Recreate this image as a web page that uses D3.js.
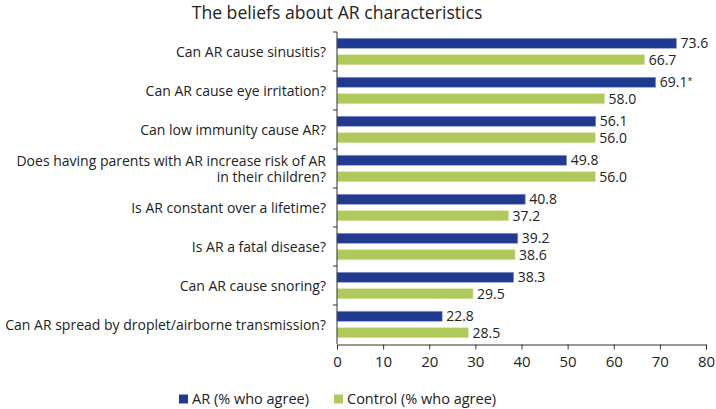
<!DOCTYPE html>
<html>
<head>
<meta charset="utf-8">
<script src="https://cdn.jsdelivr.net/npm/d3@7/dist/d3.min.js"></script>
<style>
  html, body { margin: 0; padding: 0; background: #fff; }
  svg { display: block; }
  text { font-family: "Open Sans", "Liberation Sans", sans-serif; fill: #222; }
</style>
</head>
<body>
<svg id="chart" width="716" height="409"></svg>
<script>
const title = "The beliefs about AR characteristics";
const categories = [
  ["Can AR cause sinusitis?"],
  ["Can AR cause eye irritation?"],
  ["Can low immunity cause AR?"],
  ["Does having parents with AR increase risk of AR", "in their children?"],
  ["Is AR constant over a lifetime?"],
  ["Is AR a fatal disease?"],
  ["Can AR cause snoring?"],
  ["Can AR spread by droplet/airborne transmission?"]
];
const arValues      = [73.6, 69.1, 56.1, 49.8, 40.8, 39.2, 38.3, 22.8];
const controlValues = [66.7, 58.0, 56.0, 56.0, 37.2, 38.6, 29.5, 28.5];
const arNotes       = ["", "*", "", "", "", "", "", ""];
const xTicks = [0, 10, 20, 30, 40, 50, 60, 70, 80];
const seriesNames = ["AR (% who agree)", "Control (% who agree)"];
const seriesColors = ["#1f3a8e", "#b0c95b"];

const svg = d3.select("#chart");

const x = d3.scaleLinear().domain([0, 80]).range([337, 706]);
const keys = categories.map((c, i) => i);
const y = d3.scaleBand().domain(keys).range([32, 344]).paddingInner(0).paddingOuter(0);
const ySub = d3.scaleBand().domain([0, 1]).range([0, y.bandwidth()]).paddingInner(0.394).paddingOuter(0.379);

// title
svg.append("text").attr("x", 337).attr("y", 19).attr("text-anchor", "middle")
  .style("font-size", "17.6px").text(title);

// bars
const rows = keys.map(i => ({i, vals: [arValues[i], controlValues[i]], notes: [arNotes[i], ""]}));
const g = svg.append("g");
rows.forEach(r => {
  r.vals.forEach((v, s) => {
    const by = y(r.i) + ySub(s);
    g.append("rect")
      .attr("x", x(0)).attr("y", by)
      .attr("width", x(v) - x(0)).attr("height", ySub.bandwidth())
      .attr("fill", seriesColors[s])
      .attr("stroke", s === 0 ? "#8f9fcc" : "#d6e3a8").attr("stroke-width", 0.6);
    const t = g.append("text")
      .attr("x", x(v) + 4).attr("y", by + ySub.bandwidth() / 2)
      .attr("dy", "0.36em")
      .style("font-size", "14px")
      .text(v.toFixed(1));
    if (r.notes[s]) {
      t.append("tspan").attr("dy", "-0.4em").style("font-size", "9px").text(r.notes[s]);
    }
  });
});

// y axis
const yAxisG = svg.append("g").attr("transform", `translate(${x(0)},0)`);
yAxisG.append("line").attr("x1", 0).attr("x2", 0).attr("y1", 32).attr("y2", 344)
  .attr("stroke", "#333").attr("stroke-width", 1);
keys.map(i => y(i)).forEach(b => {
  yAxisG.append("line").attr("x1", -4).attr("x2", 0).attr("y1", b).attr("y2", b)
    .attr("stroke", "#333").attr("stroke-width", 1);
});
// category labels
keys.forEach(i => {
  const lines = categories[i];
  const cy = y(i) + y.bandwidth() / 2;
  const lh = 16;
  lines.forEach((ln, k) => {
    svg.append("text")
      .attr("x", 326)
      .attr("y", cy + (k - (lines.length - 1) / 2) * lh)
      .attr("dy", "0.36em")
      .attr("text-anchor", "end")
      .style("font-size", "14px")
      .text(ln);
  });
});

// x axis
const xAxis = d3.axisBottom(x).tickValues(xTicks).tickSize(5).tickSizeOuter(0).tickFormat(d3.format("d"));
const xg = svg.append("g").attr("transform", "translate(0,344.5)").call(xAxis);
xg.select(".domain").attr("stroke", "#333");
xg.selectAll(".tick line").attr("stroke", "#333");
xg.selectAll(".tick text").style("font-size", "15px").style("font-family", '"Open Sans", sans-serif').attr("fill", "#222").attr("dy", "0.95em");

// legend
const legendX = [179, 334];
seriesNames.forEach((n, s) => {
  svg.append("rect").attr("x", legendX[s]).attr("y", 394.5).attr("width", 9).attr("height", 9).attr("fill", seriesColors[s]);
  svg.append("text").attr("x", legendX[s] + 13).attr("y", 399).attr("dy", "0.36em")
    .style("font-size", "14.5px").text(n);
});
</script>
</body>
</html>
